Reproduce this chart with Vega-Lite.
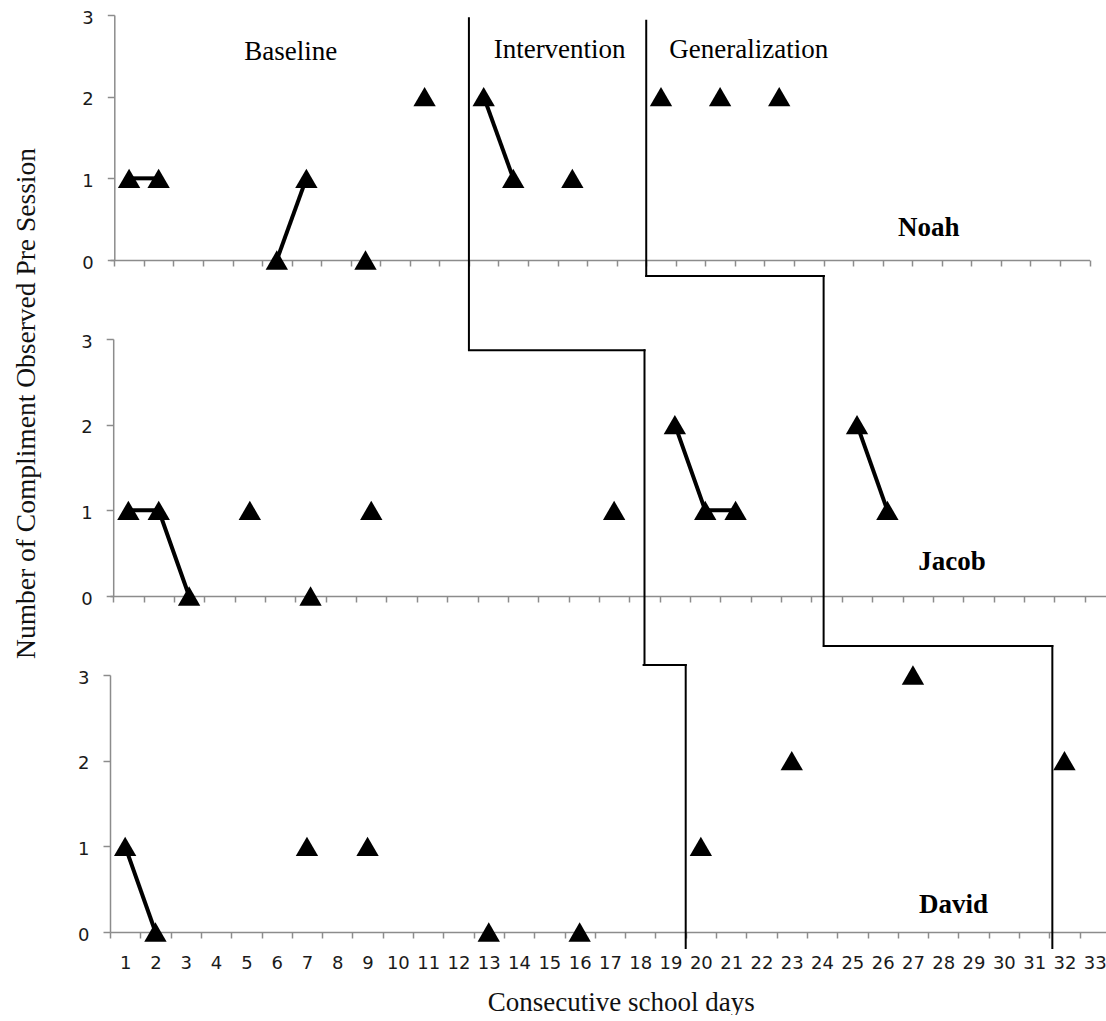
{
  "$schema": "https://vega.github.io/schema/vega-lite/v6.json",
  "background": "white",
  "padding": {"left": 12, "top": 9, "right": 0, "bottom": 0},
  "spacing": 79,
  "bounds": "flush",
  "resolve": {"scale": {"x": "independent", "y": "independent"}},
  "config": {
    "view": {"stroke": null},
    "font": "Liberation Serif",
    "axis": {"grid": false, "domainColor": "#8c8c8c", "tickColor": "#8c8c8c", "domainWidth": 1.5, "tickWidth": 1.5, "labelColor": "#1a1a1a", "labelFont": "DejaVu Sans", "titleColor": "#111111", "titleFontWeight": "normal", "labelOverlap": false}
  },
  "datasets": {
    "obs": [
      {"student": "Noah", "day": 1, "count": 1, "run": 1},
      {"student": "Noah", "day": 2, "count": 1, "run": 1},
      {"student": "Noah", "day": 6, "count": 0, "run": 2},
      {"student": "Noah", "day": 7, "count": 1, "run": 2},
      {"student": "Noah", "day": 9, "count": 0, "run": 3},
      {"student": "Noah", "day": 11, "count": 2, "run": 4},
      {"student": "Noah", "day": 13, "count": 2, "run": 5},
      {"student": "Noah", "day": 14, "count": 1, "run": 5},
      {"student": "Noah", "day": 16, "count": 1, "run": 6},
      {"student": "Noah", "day": 19, "count": 2, "run": 7},
      {"student": "Noah", "day": 21, "count": 2, "run": 8},
      {"student": "Noah", "day": 23, "count": 2, "run": 9},
      {"student": "Jacob", "day": 1, "count": 1, "run": 1},
      {"student": "Jacob", "day": 2, "count": 1, "run": 1},
      {"student": "Jacob", "day": 3, "count": 0, "run": 1},
      {"student": "Jacob", "day": 5, "count": 1, "run": 2},
      {"student": "Jacob", "day": 7, "count": 0, "run": 3},
      {"student": "Jacob", "day": 9, "count": 1, "run": 4},
      {"student": "Jacob", "day": 17, "count": 1, "run": 5},
      {"student": "Jacob", "day": 19, "count": 2, "run": 6},
      {"student": "Jacob", "day": 20, "count": 1, "run": 6},
      {"student": "Jacob", "day": 21, "count": 1, "run": 6},
      {"student": "Jacob", "day": 25, "count": 2, "run": 7},
      {"student": "Jacob", "day": 26, "count": 1, "run": 7},
      {"student": "David", "day": 1, "count": 1, "run": 1},
      {"student": "David", "day": 2, "count": 0, "run": 1},
      {"student": "David", "day": 7, "count": 1, "run": 2},
      {"student": "David", "day": 9, "count": 1, "run": 3},
      {"student": "David", "day": 13, "count": 0, "run": 4},
      {"student": "David", "day": 16, "count": 0, "run": 5},
      {"student": "David", "day": 20, "count": 1, "run": 6},
      {"student": "David", "day": 23, "count": 2, "run": 7},
      {"student": "David", "day": 27, "count": 3, "run": 8},
      {"student": "David", "day": 32, "count": 2, "run": 9}
    ],
    "phase": [
      {"panel": "Noah", "x1": 12.5, "x2": 12.5, "y1": 2.96, "y2": -1.10},
      {"panel": "Noah", "x1": 18.5, "x2": 18.5, "y1": 2.93, "y2": -0.196},
      {"panel": "Noah", "x1": 18.5, "x2": 24.51, "y1": -0.196, "y2": -0.196},
      {"panel": "Jacob", "x1": 12.22, "x2": 18.0, "y1": 2.87, "y2": 2.87},
      {"panel": "Jacob", "x1": 18.0, "x2": 18.0, "y1": 2.87, "y2": -0.805},
      {"panel": "Jacob", "x1": 23.9, "x2": 23.9, "y1": 3.735, "y2": -0.584},
      {"panel": "David", "x1": 18.11, "x2": 19.5, "y1": 3.117, "y2": 3.117},
      {"panel": "David", "x1": 19.5, "x2": 19.5, "y1": 3.117, "y2": -0.187},
      {"panel": "David", "x1": 24.06, "x2": 31.6, "y1": 3.339, "y2": 3.339},
      {"panel": "David", "x1": 31.6, "x2": 31.6, "y1": 3.339, "y2": -0.187}
    ]
  },
  "vconcat": [
    {
      "width": 979.5,
      "height": 245,
      "layer": [
        {
          "data": {"name": "phase"},
          "transform": [{"filter": "datum.panel == 'Noah'"}],
          "mark": {"type": "rule", "color": "black", "strokeWidth": 2, "strokeCap": "square"},
          "encoding": {
            "x": {"field": "x1", "type": "quantitative", "scale": {"domain": [0.3545, 33.5], "nice": false, "zero": false}, "axis": {"values": [0.5,1.5,2.5,3.5,4.5,5.5,6.5,7.5,8.5,9.5,10.5,11.5,12.5,13.5,14.5,15.5,16.5,17.5,18.5,19.5,20.5,21.5,22.5,23.5,24.5,25.5,26.5,27.5,28.5,29.5,30.5,31.5,32.5,33.5], "tickCount": 60, "labels": false, "title": null, "tickSize": 6}},
            "x2": {"field": "x2"},
            "y": {"field": "y1", "type": "quantitative", "scale": {"domain": [0, 3], "nice": false, "zero": false}, "axis": {"values": [0, 1, 2, 3], "format": "d", "title": null, "offset": -4.3, "tickSize": 7, "labelPadding": 14, "labelFontSize": 18, "labelOffset": 3}},
            "y2": {"field": "y2"}
          }
        },
        {
          "data": {"name": "obs"},
          "transform": [{"filter": "datum.student == 'Noah'"}],
          "mark": {"type": "line", "color": "black", "strokeWidth": 4},
          "encoding": {
            "x": {"field": "day", "type": "quantitative", "scale": {"domain": [0.3545, 33.5], "nice": false, "zero": false}, "axis": {"values": [0.5,1.5,2.5,3.5,4.5,5.5,6.5,7.5,8.5,9.5,10.5,11.5,12.5,13.5,14.5,15.5,16.5,17.5,18.5,19.5,20.5,21.5,22.5,23.5,24.5,25.5,26.5,27.5,28.5,29.5,30.5,31.5,32.5,33.5], "tickCount": 60, "labels": false, "title": null, "tickSize": 6}},
            "y": {"field": "count", "type": "quantitative", "scale": {"domain": [0, 3], "nice": false, "zero": false}, "axis": {"values": [0, 1, 2, 3], "format": "d", "title": null, "offset": -4.3, "tickSize": 7, "labelPadding": 14, "labelFontSize": 18, "labelOffset": 3}},
            "detail": {"field": "run"}
          }
        },
        {
          "data": {"name": "obs"},
          "transform": [{"filter": "datum.student == 'Noah'"}],
          "mark": {"type": "point", "shape": "triangle-up", "filled": true, "color": "black", "opacity": 1, "size": 500},
          "encoding": {
            "x": {"field": "day", "type": "quantitative", "scale": {"domain": [0.3545, 33.5], "nice": false, "zero": false}, "axis": {"values": [0.5,1.5,2.5,3.5,4.5,5.5,6.5,7.5,8.5,9.5,10.5,11.5,12.5,13.5,14.5,15.5,16.5,17.5,18.5,19.5,20.5,21.5,22.5,23.5,24.5,25.5,26.5,27.5,28.5,29.5,30.5,31.5,32.5,33.5], "tickCount": 60, "labels": false, "title": null, "tickSize": 6}},
            "y": {"field": "count", "type": "quantitative", "scale": {"domain": [0, 3], "nice": false, "zero": false}, "axis": {"values": [0, 1, 2, 3], "format": "d", "title": null, "offset": -4.3, "tickSize": 7, "labelPadding": 14, "labelFontSize": 18, "labelOffset": 3}}
          }
        },
        {
          "data": {"values": [{}]},
          "mark": {"type": "text", "text": "Baseline", "font": "Liberation Serif", "fontSize": 27, "baseline": "alphabetic", "align": "center", "color": "black"},
          "encoding": {"x": {"datum": 6.47, "type": "quantitative"}, "y": {"datum": 2.449, "type": "quantitative"}}
        },
        {
          "data": {"values": [{}]},
          "mark": {"type": "text", "text": "Intervention", "font": "Liberation Serif", "fontSize": 27, "baseline": "alphabetic", "align": "center", "color": "black"},
          "encoding": {"x": {"datum": 15.57, "type": "quantitative"}, "y": {"datum": 2.473, "type": "quantitative"}}
        },
        {
          "data": {"values": [{}]},
          "mark": {"type": "text", "text": "Generalization", "font": "Liberation Serif", "fontSize": 27, "baseline": "alphabetic", "align": "center", "color": "black"},
          "encoding": {"x": {"datum": 21.97, "type": "quantitative"}, "y": {"datum": 2.473, "type": "quantitative"}}
        },
        {
          "data": {"values": [{}]},
          "mark": {"type": "text", "text": "Noah", "font": "Liberation Serif", "fontSize": 27, "fontWeight": "bold", "baseline": "alphabetic", "align": "center", "color": "black"},
          "encoding": {"x": {"datum": 28.06, "type": "quantitative"}, "y": {"datum": 0.294, "type": "quantitative"}}
        }
      ]
    },
    {
      "width": 996.7,
      "height": 257,
      "layer": [
        {
          "data": {"name": "phase"},
          "transform": [{"filter": "datum.panel == 'Jacob'"}],
          "mark": {"type": "rule", "color": "black", "strokeWidth": 2, "strokeCap": "square"},
          "encoding": {
            "x": {"field": "x1", "type": "quantitative", "scale": {"domain": [0.3946, 33.224], "nice": false, "zero": false}, "axis": {"values": [0.5,1.5,2.5,3.5,4.5,5.5,6.5,7.5,8.5,9.5,10.5,11.5,12.5,13.5,14.5,15.5,16.5,17.5,18.5,19.5,20.5,21.5,22.5,23.5,24.5,25.5,26.5,27.5,28.5,29.5,30.5,31.5,32.5], "tickCount": 60, "labels": false, "title": null, "tickSize": 6}},
            "x2": {"field": "x2"},
            "y": {"field": "y1", "type": "quantitative", "scale": {"domain": [0, 3], "nice": false, "zero": false}, "axis": {"values": [0, 1, 2, 3], "format": "d", "offset": -3.2, "tickSize": 7, "labelPadding": 14, "labelFontSize": 18, "labelOffset": 3, "title": "Number of Compliment Observed Pre Session", "titleFont": "Liberation Serif", "titleFontSize": 27.5, "titleX": -78.5, "titleY": 64, "titleAngle": -90, "titleBaseline": "alphabetic", "titleAlign": "center"}},
            "y2": {"field": "y2"}
          }
        },
        {
          "data": {"name": "obs"},
          "transform": [{"filter": "datum.student == 'Jacob'"}],
          "mark": {"type": "line", "color": "black", "strokeWidth": 4},
          "encoding": {
            "x": {"field": "day", "type": "quantitative", "scale": {"domain": [0.3946, 33.224], "nice": false, "zero": false}, "axis": {"values": [0.5,1.5,2.5,3.5,4.5,5.5,6.5,7.5,8.5,9.5,10.5,11.5,12.5,13.5,14.5,15.5,16.5,17.5,18.5,19.5,20.5,21.5,22.5,23.5,24.5,25.5,26.5,27.5,28.5,29.5,30.5,31.5,32.5], "tickCount": 60, "labels": false, "title": null, "tickSize": 6}},
            "y": {"field": "count", "type": "quantitative", "scale": {"domain": [0, 3], "nice": false, "zero": false}, "axis": {"values": [0, 1, 2, 3], "format": "d", "offset": -3.2, "tickSize": 7, "labelPadding": 14, "labelFontSize": 18, "labelOffset": 3, "title": "Number of Compliment Observed Pre Session", "titleFont": "Liberation Serif", "titleFontSize": 27.5, "titleX": -78.5, "titleY": 64, "titleAngle": -90, "titleBaseline": "alphabetic", "titleAlign": "center"}},
            "detail": {"field": "run"}
          }
        },
        {
          "data": {"name": "obs"},
          "transform": [{"filter": "datum.student == 'Jacob'"}],
          "mark": {"type": "point", "shape": "triangle-up", "filled": true, "color": "black", "opacity": 1, "size": 500},
          "encoding": {
            "x": {"field": "day", "type": "quantitative", "scale": {"domain": [0.3946, 33.224], "nice": false, "zero": false}, "axis": {"values": [0.5,1.5,2.5,3.5,4.5,5.5,6.5,7.5,8.5,9.5,10.5,11.5,12.5,13.5,14.5,15.5,16.5,17.5,18.5,19.5,20.5,21.5,22.5,23.5,24.5,25.5,26.5,27.5,28.5,29.5,30.5,31.5,32.5], "tickCount": 60, "labels": false, "title": null, "tickSize": 6}},
            "y": {"field": "count", "type": "quantitative", "scale": {"domain": [0, 3], "nice": false, "zero": false}, "axis": {"values": [0, 1, 2, 3], "format": "d", "offset": -3.2, "tickSize": 7, "labelPadding": 14, "labelFontSize": 18, "labelOffset": 3, "title": "Number of Compliment Observed Pre Session", "titleFont": "Liberation Serif", "titleFontSize": 27.5, "titleX": -78.5, "titleY": 64, "titleAngle": -90, "titleBaseline": "alphabetic", "titleAlign": "center"}}
          }
        },
        {
          "data": {"values": [{}]},
          "mark": {"type": "text", "text": "Jacob", "font": "Liberation Serif", "fontSize": 27, "fontWeight": "bold", "baseline": "alphabetic", "align": "center", "color": "black"},
          "encoding": {"x": {"datum": 28.13, "type": "quantitative"}, "y": {"datum": 0.303, "type": "quantitative"}}
        }
      ]
    },
    {
      "width": 996.7,
      "height": 257,
      "layer": [
        {
          "data": {"name": "phase"},
          "transform": [{"filter": "datum.panel == 'David'"}],
          "mark": {"type": "rule", "color": "black", "strokeWidth": 2, "strokeCap": "square"},
          "encoding": {
            "x": {"field": "x1", "type": "quantitative", "scale": {"domain": [0.5, 33.394], "nice": false, "zero": false}, "axis": {"values": [0.5,1.5,2.5,3.5,4.5,5.5,6.5,7.5,8.5,9.5,10.5,11.5,12.5,13.5,14.5,15.5,16.5,17.5,18.5,19.5,20.5,21.5,22.5,23.5,24.5,25.5,26.5,27.5,28.5,29.5,30.5,31.5,32.5], "tickCount": 60, "labelExpr": "datum.value + 0.5", "labelOffset": 15.15, "labelFontSize": 18, "labelBaseline": "middle", "labelPadding": 25, "labelFlush": false, "labelOverlap": false, "tickSize": 6, "title": "Consecutive school days", "titleFont": "Liberation Serif", "titleFontSize": 27, "titleX": 510.7, "titleY": 78, "titleBaseline": "alphabetic", "titleAlign": "center"}},
            "x2": {"field": "x2"},
            "y": {"field": "y1", "type": "quantitative", "scale": {"domain": [0, 3], "nice": false, "zero": false}, "axis": {"values": [0, 1, 2, 3], "format": "d", "title": null, "tickSize": 7, "labelPadding": 14, "labelFontSize": 18, "labelOffset": 3}},
            "y2": {"field": "y2"}
          }
        },
        {
          "data": {"name": "obs"},
          "transform": [{"filter": "datum.student == 'David'"}],
          "mark": {"type": "line", "color": "black", "strokeWidth": 4},
          "encoding": {
            "x": {"field": "day", "type": "quantitative", "scale": {"domain": [0.5, 33.394], "nice": false, "zero": false}, "axis": {"values": [0.5,1.5,2.5,3.5,4.5,5.5,6.5,7.5,8.5,9.5,10.5,11.5,12.5,13.5,14.5,15.5,16.5,17.5,18.5,19.5,20.5,21.5,22.5,23.5,24.5,25.5,26.5,27.5,28.5,29.5,30.5,31.5,32.5], "tickCount": 60, "labelExpr": "datum.value + 0.5", "labelOffset": 15.15, "labelFontSize": 18, "labelBaseline": "middle", "labelPadding": 25, "labelFlush": false, "labelOverlap": false, "tickSize": 6, "title": "Consecutive school days", "titleFont": "Liberation Serif", "titleFontSize": 27, "titleX": 510.7, "titleY": 78, "titleBaseline": "alphabetic", "titleAlign": "center"}},
            "y": {"field": "count", "type": "quantitative", "scale": {"domain": [0, 3], "nice": false, "zero": false}, "axis": {"values": [0, 1, 2, 3], "format": "d", "title": null, "tickSize": 7, "labelPadding": 14, "labelFontSize": 18, "labelOffset": 3}},
            "detail": {"field": "run"}
          }
        },
        {
          "data": {"name": "obs"},
          "transform": [{"filter": "datum.student == 'David'"}],
          "mark": {"type": "point", "shape": "triangle-up", "filled": true, "color": "black", "opacity": 1, "size": 500},
          "encoding": {
            "x": {"field": "day", "type": "quantitative", "scale": {"domain": [0.5, 33.394], "nice": false, "zero": false}, "axis": {"values": [0.5,1.5,2.5,3.5,4.5,5.5,6.5,7.5,8.5,9.5,10.5,11.5,12.5,13.5,14.5,15.5,16.5,17.5,18.5,19.5,20.5,21.5,22.5,23.5,24.5,25.5,26.5,27.5,28.5,29.5,30.5,31.5,32.5], "tickCount": 60, "labelExpr": "datum.value + 0.5", "labelOffset": 15.15, "labelFontSize": 18, "labelBaseline": "middle", "labelPadding": 25, "labelFlush": false, "labelOverlap": false, "tickSize": 6, "title": "Consecutive school days", "titleFont": "Liberation Serif", "titleFontSize": 27, "titleX": 510.7, "titleY": 78, "titleBaseline": "alphabetic", "titleAlign": "center"}},
            "y": {"field": "count", "type": "quantitative", "scale": {"domain": [0, 3], "nice": false, "zero": false}, "axis": {"values": [0, 1, 2, 3], "format": "d", "title": null, "tickSize": 7, "labelPadding": 14, "labelFontSize": 18, "labelOffset": 3}}
          }
        },
        {
          "data": {"values": [{}]},
          "mark": {"type": "text", "text": "David", "font": "Liberation Serif", "fontSize": 27, "fontWeight": "bold", "baseline": "alphabetic", "align": "center", "color": "black"},
          "encoding": {"x": {"datum": 28.34, "type": "quantitative"}, "y": {"datum": 0.222, "type": "quantitative"}}
        }
      ]
    }
  ]
}
